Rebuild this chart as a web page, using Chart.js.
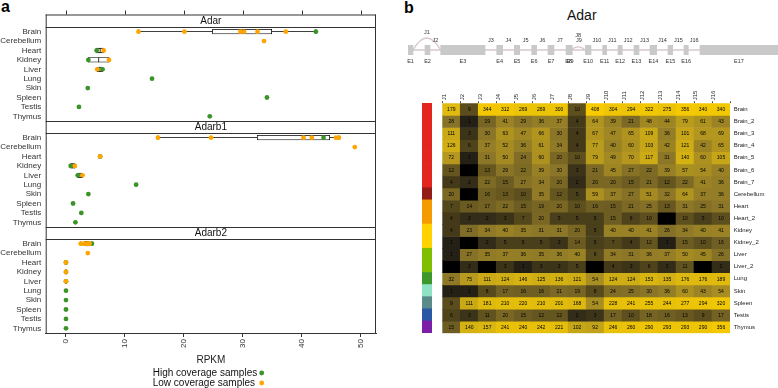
<!DOCTYPE html>
<html>
<head>
<meta charset="utf-8">
<script src="https://cdn.jsdelivr.net/npm/chart.js@4.4.1/dist/chart.umd.min.js"></script>
<style>
  html, body { margin: 0; padding: 0; background: #fff; }
  #wrap { position: relative; width: 778px; height: 388px; overflow: hidden;
          font-family: 'Liberation Sans', Arial, Helvetica, sans-serif; }
  canvas { position: absolute; }
  .tag { position: absolute; font-weight: bold; font-size: 16px; line-height: 16px; color: #000; }
  .gene { position: absolute; font-size: 14px; line-height: 14px; color: #111; }
</style>
</head>
<body>
<div id="wrap">
  <div class="tag" style="left:1px;top:-1px">a</div>
  <div class="tag" style="left:404px;top:0px">b</div>
  <div class="gene" style="left:567px;top:8px">Adar</div>

  <canvas id="fa1" width="390" height="121" style="left:0;top:0"></canvas>
  <canvas id="fa2" width="390" height="106" style="left:0;top:121px"></canvas>
  <canvas id="fa3" width="390" height="161" style="left:0;top:227px"></canvas>

  <canvas id="gene" width="388" height="45" style="left:390px;top:25px"></canvas>
  <canvas id="groups" width="10" height="230" style="left:422px;top:103px"></canvas>
  <canvas id="heat" width="388" height="258" style="left:390px;top:80px"></canvas>
</div>

<script>
// ====== DATA: panel a (RPKM per sample) ======
const tissues = ['Brain','Cerebellum','Heart','Kidney','Liver','Lung','Skin','Spleen','Testis','Thymus'];
const rpkmTicks = [0, 10, 20, 30, 40, 50];

const adarHigh = [['Brain',42.4],['Heart',5.2],['Kidney',3.8],['Liver',6.2],['Lung',14.6],
                  ['Skin',3.7],['Spleen',34.1],['Testis',2.2],['Thymus',24.4]];
const adarLow  = [['Brain',12.3],['Brain',20.1],['Brain',29.6],['Brain',30.2],['Brain',32.5],['Brain',37.3],
                  ['Cerebellum',33.6],['Heart',6.4],['Kidney',7.3],['Liver',5.3]];

const adarb1High = [['Brain',43.7],['Heart',5.8],['Kidney',0.8],['Liver',2.0],['Lung',11.9],
                    ['Skin',3.8],['Spleen',1.2],['Testis',2.6],['Thymus',1.6]];
const adarb1Low  = [['Brain',15.6],['Brain',24.6],['Brain',40.3],['Brain',41.7],['Brain',45.8],['Brain',46.3],
                    ['Cerebellum',49.0],['Heart',5.8],['Kidney',1.5],['Liver',2.8]];

const adarb2High = [['Brain',4.4],['Heart',0],['Kidney',0],['Liver',0],['Lung',0],
                    ['Skin',0],['Spleen',0],['Testis',0],['Thymus',0]];
const adarb2Low  = [['Brain',2.5],['Brain',3.0],['Brain',3.4],['Brain',3.7],['Brain',3.9],['Brain',4.0],
                    ['Cerebellum',3.7],['Heart',0],['Kidney',0],['Liver',0]];

// ====== DATA: panel b (Adar gene model + junction read counts) ======
const exonNames = ['E1','E2','E3','E4','E5','E6','E7','E8','E9','E10','E11','E12','E13','E14','E15','E16','E17'];
const exonStart = [0, 17, 32.7, 88.7, 106.3, 123.7, 140, 158, 160, 177.3, 194.7, 210, 226, 242, 260, 276, 292];
const exonEnd   = [5, 22, 77, 94.7, 111.7, 128.7, 146, 163, 164.3, 183, 198.7, 214.3, 231, 248.7, 264.7, 280.3, 370];

const junctions = ['J1','J2','J3','J4','J5','J6','J7','J8','J9','J10','J11','J12','J13','J14','J15','J16'];
const junctionFrom = [1, 2, 3, 4, 5, 6, 7, 8, 9, 10, 11, 12, 13, 14, 15, 16];
const junctionTo   = [3, 3, 4, 5, 6, 7, 8, 10, 10, 11, 12, 13, 14, 15, 16, 17];

const samples = ['Brain','Brain_2','Brain_3','Brain_4','Brain_5','Brain_6','Brain_7','Cerebellum',
                 'Heart','Heart_2','Kidney','Kidney_2','Liver','Liver_2','Lung','Skin','Spleen','Testis','Thymus'];
const sampleTissue = ['Brain','Brain','Brain','Brain','Brain','Brain','Brain','Cerebellum',
                      'Heart','Heart','Kidney','Kidney','Liver','Liver','Lung','Skin','Spleen','Testis','Thymus'];

// rows = samples, columns = J1..J16
const counts = [
  [179,   9, 344, 312, 269, 269, 300,  10, 408, 304, 294, 322, 275, 356, 340, 340],
  [ 28,   1,  19,  41,  29,  36,  37,   4,  64,  39,  21,  48,  44,  79,  61,  43],
  [111,   3,  30,  63,  47,  66,  30,   4,  67,  47,  65, 109,  36, 101,  68,  69],
  [126,   6,  37,  52,  36,  61,  34,   4,  77,  40,  60, 103,  42, 121,  42,  65],
  [ 72,   1,  31,  50,  24,  60,  20,  10,  79,  49,  70, 117,  31, 140,  60, 105],
  [ 12,   0,  13,  29,  22,  39,  30,   3,  21,  45,  27,  22,  39,  57,  54,  40],
  [  4,   2,  22,  15,  27,  34,  20,   2,  20,  20,  15,  21,  12,  22,  41,  36],
  [ 20,   0,  16,  13,  10,  35,  12,   5,  59,  37,  27,  51,  32,  64,  37,  36],
  [  7,  14,  17,  22,  15,  19,  20,  10,  16,  15,  21,  25,  13,  31,  25,  31],
  [  4,   2,   2,   3,   7,  20,   5,   5,   5,  15,   6,  10,   0,  10,   5,  10],
  [  4,  23,  34,  40,  35,  31,  31,  20,   5,  40,  40,  41,  26,  34,  40,  41],
  [  1,   0,   2,   5,   5,   5,   3,  14,   5,   7,   4,  12,   1,  15,  10,  16],
  [  1,  27,  35,  37,  36,  35,  36,  40,   8,  34,  31,  36,  37,  50,  45,  26],
  [  0,   2,   0,   3,   1,   3,   3,   5,   0,   4,   3,   6,   2,  11,   0,   2],
  [ 32,  75, 111, 124, 146, 125, 136, 121,  54, 124, 124, 153, 135, 176, 176, 189],
  [  1,   1,   8,  17,  16,  16,  21,  19,   8,  24,  25,  30,  36,  60,  43,  54],
  [  9, 111, 181, 210, 220, 210, 201, 168,  54, 228, 241, 255, 244, 277, 294, 320],
  [  6,   3,  11,  20,  15,  12,  12,   2,   3,  17,  10,  18,  16,  13,   9,  17],
  [ 15, 140, 157, 241, 240, 242, 221, 102,  92, 246, 260, 290, 293, 293, 290, 356]
];

// ====== STYLE ======
const FONT = "'Liberation Sans', Arial, Helvetica, sans-serif";
const GREEN = '#3b9428';
const ORANGE = '#ffa500';
const tissueColors = {
  Brain: '#e3241f', Cerebellum: '#951b17', Heart: '#f59b00', Kidney: '#ffd200', Liver: '#7fbf00',
  Lung: '#3d982c', Skin: '#8fe2c4', Spleen: '#5b8a8a', Testis: '#2b58a4', Thymus: '#7a1fa6'
};
const heatStops = [[0,[0,0,0]],[0.12,[38,33,22]],[0.4,[94,80,30]],[0.57,[138,117,40]],
                   [0.72,[184,154,30]],[0.85,[220,184,16]],[1,[248,204,0]]];

Chart.defaults.font.family = FONT;
Chart.defaults.color = '#333';
Chart.defaults.animation = false;
Chart.defaults.plugins.legend.display = false;
Chart.defaults.plugins.tooltip.enabled = false;

// ====== UTIL ======
function fivenum(vals){
  const x = [...vals].sort((p, q) => p - q);
  const n = x.length;
  const n4 = Math.floor((n + 3) / 2) / 2;
  return [1, n4, (n + 1) / 2, n + 1 - n4, n].map(d => 0.5 * (x[Math.floor(d) - 1] + x[Math.ceil(d) - 1]));
}

const maxCount = Math.max(...counts.flat());
function heatColor(v){
  const t = Math.log(v + 1) / Math.log(maxCount + 1);
  for (let i = 1; i < heatStops.length; i++) {
    const [t1, c1] = heatStops[i], [t0, c0] = heatStops[i - 1];
    if (t <= t1) {
      const f = (t - t0) / (t1 - t0);
      const c = c0.map((a, k) => Math.round(a + (c1[k] - a) * f));
      return `rgb(${c[0]},${c[1]},${c[2]})`;
    }
  }
  return 'rgb(248,204,0)';
}

// ====== PANEL a: facet frame, strip, top ticks, key ======
const facetFrame = {
  id: 'facetFrame',
  afterDraw(chart, args, o){
    const {ctx, chartArea: a} = chart;
    const top = a.top - o.stripH;
    ctx.save();
    ctx.fillStyle = '#fff';
    ctx.fillRect(a.left, top, a.right - a.left, o.stripH);
    ctx.strokeStyle = '#333';
    ctx.lineWidth = 1;
    ctx.beginPath();
    ctx.moveTo(a.left, top + 0.5);   ctx.lineTo(a.right, top + 0.5);
    ctx.moveTo(a.left, a.top + 0.5); ctx.lineTo(a.right, a.top + 0.5);
    ctx.moveTo(a.left + 0.5, top);   ctx.lineTo(a.left + 0.5, a.bottom);
    ctx.moveTo(a.right - 0.5, top);  ctx.lineTo(a.right - 0.5, a.bottom);
    if (o.topTicks) {
      rpkmTicks.forEach(v => {
        const x = Math.round(chart.scales.x.getPixelForValue(v)) + 0.5;
        ctx.moveTo(x, top - 4); ctx.lineTo(x, top);
      });
    }
    ctx.stroke();
    ctx.fillStyle = '#111';
    ctx.font = `10px ${FONT}`;
    ctx.textAlign = 'center';
    ctx.textBaseline = 'middle';
    ctx.fillText(o.title, (a.left + a.right) / 2, top + o.stripH / 2 + 0.5);

    if (o.key) {
      // lattice-style key: text column then point column
      const items = chart.data.datasets.filter(d => d.keyRow !== undefined)
                                        .sort((p, q) => p.keyRow - q.keyRow);
      ctx.font = `10px ${FONT}`;
      ctx.textAlign = 'left';
      items.forEach((d, i) => {
        const y = a.bottom + 40 + i * 10;
        ctx.fillStyle = '#111';
        ctx.fillText(d.label, 152.7, y);
        ctx.fillStyle = d.backgroundColor;
        ctx.beginPath();
        ctx.arc(261.7, y, 2.4, 0, Math.PI * 2);
        ctx.fill();
      });
    }
    ctx.restore();
  }
};

function facet(id, gene, high, low, opt){
  const all = high.concat(low);
  const stats = tissues.map(t => {
    const v = all.filter(p => p[0] === t).map(p => p[1]);
    return v.length > 1 ? fivenum(v) : null;
  });
  const marks = [];
  tissues.forEach((t, i) => {
    const s = stats[i];
    if (s) marks.push({x: s[0], y: t}, {x: s[2], y: t}, {x: s[4], y: t});
  });

  return new Chart(document.getElementById(id), {
    type: 'bar',
    data: {
      labels: tissues,
      datasets: [
        { type: 'scatter', label: 'Low coverage samples', keyRow: 1,
          data: low.map(p => ({x: p[1], y: p[0]})),
          backgroundColor: ORANGE, pointRadius: 2.4, borderWidth: 0, order: 1 },
        { type: 'scatter', label: 'High coverage samples', keyRow: 0,
          data: high.map(p => ({x: p[1], y: p[0]})),
          backgroundColor: GREEN, pointRadius: 2.4, borderWidth: 0, order: 2 },
        // whisker caps + median
        { type: 'scatter', data: marks, pointStyle: 'line', rotation: 90, pointRadius: 2.3,
          borderColor: '#000', borderWidth: 0.8, order: 3 },
        // box (hinges)
        { type: 'bar', indexAxis: 'y', grouped: false,
          data: stats.map(s => s ? [s[1], s[3]] : null),
          backgroundColor: '#fff', borderColor: '#000', borderWidth: 0.8, borderSkipped: false,
          barThickness: 4.6, order: 4 },
        // whiskers
        { type: 'bar', indexAxis: 'y', grouped: false,
          data: stats.map(s => s ? [s[0], s[4]] : null),
          backgroundColor: '#000', borderWidth: 0, barThickness: 0.8, inflateAmount: 0, order: 5 }
      ]
    },
    options: {
      responsive: false,
      devicePixelRatio: 1,
      layout: { autoPadding: false, padding: { top: opt.padTop, right: 14, bottom: opt.padBottom, left: 0 } },
      scales: {
        x: {
          type: 'linear', min: -3.44, max: 52.6, offset: false,
          display: !!opt.axis,
          position: 'bottom',
          afterBuildTicks: s => { s.ticks = rpkmTicks.map(v => ({value: v})); },
          afterFit: s => { if (opt.axis) { s.height = 33; } s.paddingLeft = 0; s.paddingRight = 0; },
          border: { display: true, color: '#333', width: 1 },
          grid: { offset: false, drawOnChartArea: false, drawTicks: true, tickLength: 4, color: '#333' },
          ticks: { font: { size: 8 }, color: '#333', minRotation: 90, maxRotation: 90, padding: 2, autoSkip: false },
          title: { display: true, text: 'RPKM', font: { size: 10 }, color: '#222', padding: 0 }
        },
        y: {
          type: 'category', labels: tissues, offset: true,
          afterFit: s => { s.width = 45.7; s.paddingTop = 0; s.paddingBottom = 0; },
          grid: { display: false, drawTicks: false },
          border: { display: false },
          ticks: { font: { size: 8 }, color: '#333', padding: 4.5, autoSkip: false }
        }
      },
      plugins: {
        facetFrame: { title: gene, stripH: opt.stripH, topTicks: !!opt.topTicks, key: !!opt.key }
      }
    },
    plugins: [facetFrame]
  });
}

facet('fa1', 'Adar',   adarHigh,   adarLow,   { padTop: 27, padBottom: 0, stripH: 12.5, topTicks: true });
facet('fa2', 'Adarb1', adarb1High, adarb1Low, { padTop: 12, padBottom: 0, stripH: 12 });
facet('fa3', 'Adarb2', adarb2High, adarb2Low, { padTop: 12, padBottom: 22, stripH: 12, axis: true, key: true });

// ====== PANEL b: gene model ======
const geneModel = {
  id: 'geneModel',
  beforeDatasetsDraw(chart){
    const {ctx, chartArea: a, scales: {x}} = chart;
    const cy = (a.top + a.bottom) / 2;
    ctx.save();
    ctx.strokeStyle = '#d9c8c8';
    ctx.lineWidth = 1.3;
    ctx.beginPath();
    ctx.moveTo(x.getPixelForValue(exonStart[0]), cy);
    ctx.lineTo(x.getPixelForValue(exonEnd[exonEnd.length - 1]), cy);
    junctions.forEach((j, k) => {
      if (junctionTo[k] - junctionFrom[k] < 2) return;
      const x0 = x.getPixelForValue(exonEnd[junctionFrom[k] - 1]);
      const x1 = x.getPixelForValue(exonStart[junctionTo[k] - 1]);
      const h = Math.min(12, (x1 - x0) * (x1 - x0) / 64);
      ctx.moveTo(x0, cy);
      ctx.quadraticCurveTo((x0 + x1) / 2, cy - 2 * h, x1, cy);
    });
    ctx.stroke();
    ctx.restore();
  },
  afterDatasetsDraw(chart){
    const {ctx, chartArea: a, scales: {x}} = chart;
    const cy = (a.top + a.bottom) / 2;
    ctx.save();
    ctx.fillStyle = '#333';
    ctx.font = `5.5px ${FONT}`;
    ctx.textAlign = 'center';
    ctx.textBaseline = 'middle';
    exonNames.forEach((e, i) => {
      ctx.fillText(e, x.getPixelForValue((exonStart[i] + exonEnd[i]) / 2), cy + 11.7);
    });
    junctions.forEach((j, k) => {
      const x0 = x.getPixelForValue(exonEnd[junctionFrom[k] - 1]);
      const x1 = x.getPixelForValue(exonStart[junctionTo[k] - 1]);
      let y = cy - 9.3;
      if (junctionTo[k] - junctionFrom[k] >= 2) {
        const h = Math.min(12, (x1 - x0) * (x1 - x0) / 64);
        y = Math.min(cy - h - 6, cy - 15);
      }
      ctx.fillText(j, (x0 + x1) / 2, y);
    });
    ctx.restore();
  }
};

new Chart(document.getElementById('gene'), {
  type: 'bar',
  data: {
    labels: ['Adar'],
    datasets: [{
      indexAxis: 'y',
      data: exonNames.map((e, i) => ({ y: 'Adar', x: [exonStart[i], exonEnd[i]] })),
      backgroundColor: '#c9c9c9', borderWidth: 0, barThickness: 9.3
    }]
  },
  options: {
    indexAxis: 'y',
    responsive: false,
    devicePixelRatio: 1,
    layout: { autoPadding: false, padding: { top: 19, right: 0, bottom: 14, left: 18 } },
    scales: {
      x: { type: 'linear', min: 0, max: 370, display: false },
      y: { type: 'category', labels: ['Adar'], display: false }
    }
  },
  plugins: [geneModel]
});

// ====== PANEL b: sample group colour bar ======
new Chart(document.getElementById('groups'), {
  type: 'bar',
  data: {
    labels: samples,
    datasets: [{
      indexAxis: 'y',
      data: samples.map(() => 1),
      backgroundColor: sampleTissue.map(t => tissueColors[t]),
      borderWidth: 0, barPercentage: 1, categoryPercentage: 1
    }]
  },
  options: {
    indexAxis: 'y',
    responsive: false,
    devicePixelRatio: 1,
    layout: { autoPadding: false, padding: 0 },
    scales: {
      x: { type: 'linear', min: 0, max: 1, display: false },
      y: { type: 'category', display: false }
    }
  }
});

// ====== PANEL b: junction count heatmap ======
const cellText = {
  id: 'cellText',
  afterDatasetsDraw(chart){
    const {ctx} = chart;
    ctx.save();
    ctx.font = `5px ${FONT}`;
    ctx.fillStyle = '#000';
    ctx.textAlign = 'center';
    ctx.textBaseline = 'middle';
    chart.data.datasets.forEach((ds, i) => {
      chart.getDatasetMeta(i).data.forEach((bar, j) => {
        const p = bar.getCenterPoint();
        ctx.fillText(String(counts[i][j]), p.x, p.y + 0.3);
      });
    });
    ctx.restore();
  }
};

new Chart(document.getElementById('heat'), {
  type: 'bar',
  data: {
    labels: junctions,
    datasets: samples.map((s, i) => ({
      label: s,
      data: junctions.map(() => 1),
      backgroundColor: counts[i].map(heatColor),
      borderWidth: 0, barPercentage: 1, categoryPercentage: 1
    }))
  },
  options: {
    responsive: false,
    devicePixelRatio: 1,
    layout: { autoPadding: false, padding: { top: 0, right: 0, bottom: 4.7, left: 52.3 } },
    scales: {
      x: {
        stacked: true, position: 'top',
        afterFit: s => { s.height = 23.3; s.paddingLeft = 0; s.paddingRight = 0; },
        border: { display: false },
        grid: { drawOnChartArea: false, drawTicks: true, tickLength: 2, color: '#444' },
        ticks: { font: { size: 6 }, color: '#222', minRotation: 90, maxRotation: 90, padding: 1, autoSkip: false }
      },
      y: { stacked: true, min: 0, max: samples.length, reverse: true, display: false },
      y2: {
        type: 'category', labels: samples, position: 'right', offset: true,
        afterFit: s => { s.width = 48; s.paddingTop = 0; s.paddingBottom = 0; },
        grid: { display: false, drawTicks: false },
        border: { display: false },
        ticks: { font: { size: 6 }, color: '#222', padding: 3.7, autoSkip: false }
      }
    }
  },
  plugins: [cellText]
});
</script>
</body>
</html>
